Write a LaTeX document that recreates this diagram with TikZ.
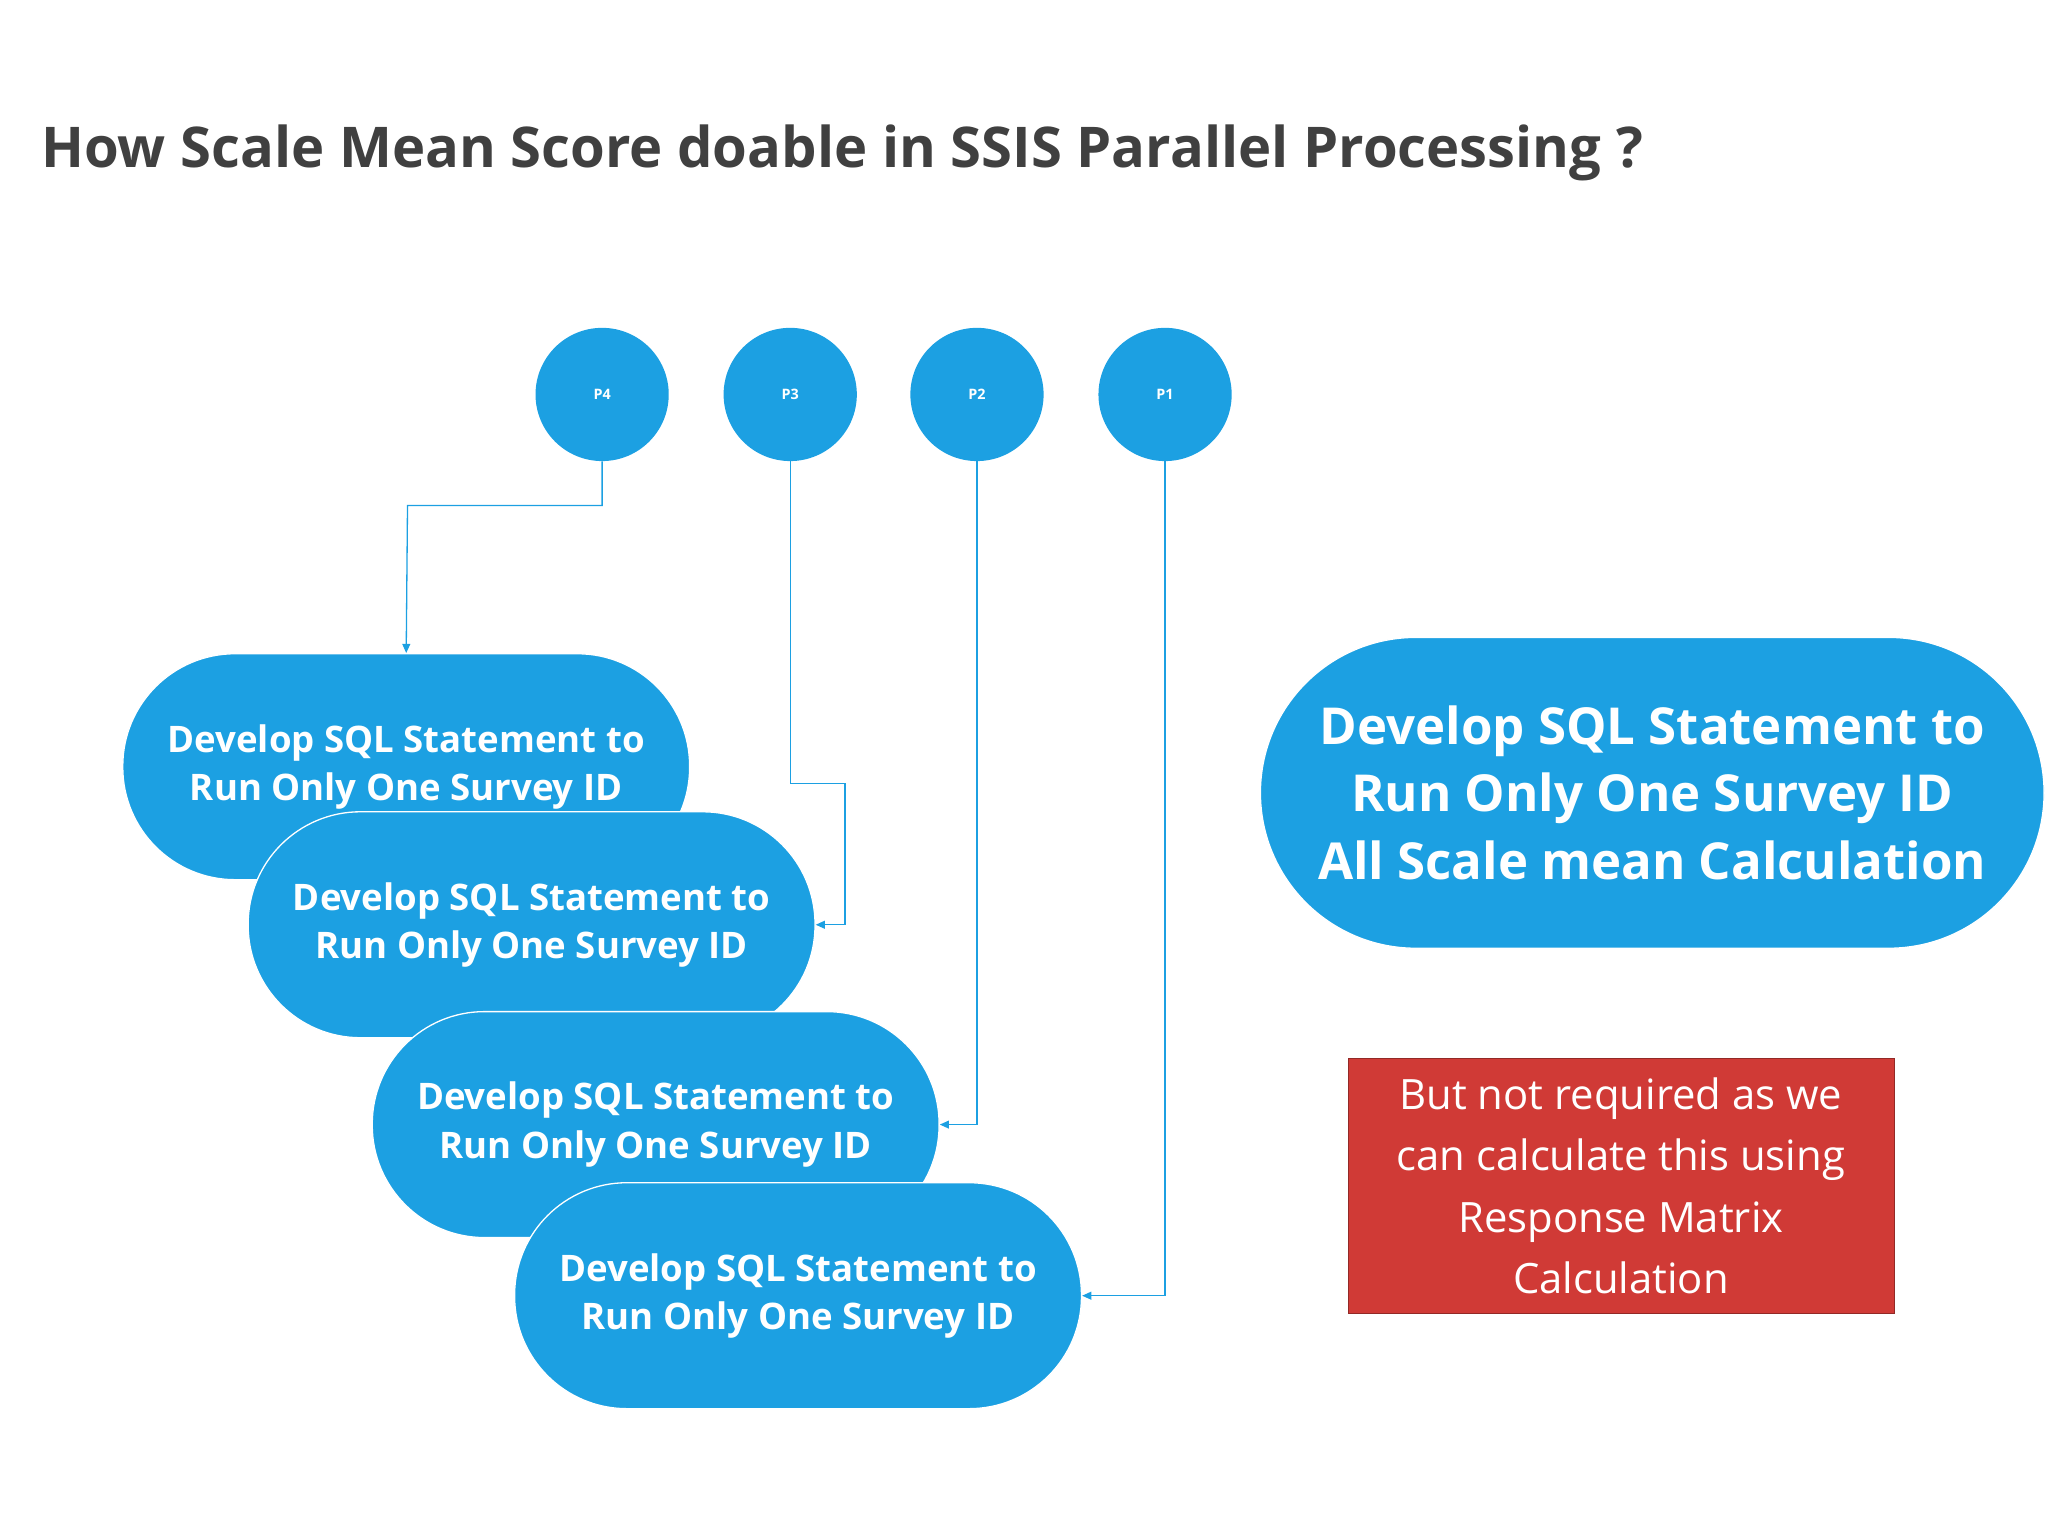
\documentclass[tikz,border=0pt]{standalone}
\usepackage{fontspec}
\setmainfont{Open Sans}
\usetikzlibrary{arrows.meta}
\definecolor{bl}{HTML}{1CA0E2}
\definecolor{ttl}{HTML}{404040}
\definecolor{rd}{HTML}{D03A36}
\begin{document}
\begin{tikzpicture}[x=1pt,y=-1pt,
 circ/.style={circle,fill=bl,minimum size=102pt,inner sep=0,text=white,font=\bfseries\fontsize{11}{13}\selectfont},
 stad/.style={fill=bl,draw=white,line width=1pt,rounded corners=86pt,minimum width=434pt,minimum height=173pt,text=white,align=center,font=\bfseries\fontsize{28}{37}\selectfont},
 con/.style={draw=bl,line width=1pt,-{Triangle[length=7pt,width=6pt]}}]
\useasboundingbox (0,0) rectangle (1568,1176);
\node[anchor=base west,text=ttl,font=\bfseries\fontsize{43}{50}\selectfont] (t) at (28,128) {How Scale Mean Score doable in SSIS Parallel Processing ?};
\node[circ] (p4) at (461,302) {P4};
\node[circ] (p3) at (605,302) {P3};
\node[circ] (p2) at (748,302) {P2};
\node[circ] (p1) at (892,302) {P1};
\node[stad] (s1) at (311,587) {Develop SQL Statement to\\Run Only One Survey ID};
\node[stad] (s2) at (407,708) {Develop SQL Statement to\\Run Only One Survey ID};
\node[stad] (s3) at (502,861) {Develop SQL Statement to\\Run Only One Survey ID};
\node[stad] (s4) at (611,992) {Develop SQL Statement to\\Run Only One Survey ID};
\node[stad,minimum width=600pt,minimum height=238pt,rounded corners=119pt,font=\bfseries\fontsize{39}{52}\selectfont] (big) at (1265,607) {Develop SQL Statement to\\Run Only One Survey ID\\All Scale mean Calculation};
\node[fill=rd,draw=rd!70!black,minimum width=418pt,minimum height=195pt,text=white,align=center,font=\fontsize{32}{47}\selectfont,drop shadow/.style={}] (r) at (1241,908) {But not required as we\\can calculate this using\\Response Matrix\\Calculation};
\draw[con] (p4.south) |- (312,387) -- (s1.north);
\draw[con] (p3.south) |- (647,600) |- (s2.east);
\draw[con] (p2.south) |- (s3.east);
\draw[con] (p1.south) |- (s4.east);
\end{tikzpicture}
\end{document}
